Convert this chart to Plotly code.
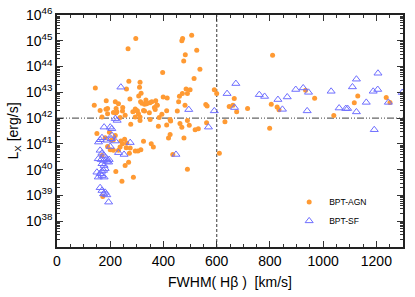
import plotly.graph_objects as go

# BPT-AGN sample: FWHM(Hbeta) [km/s] and log10 L_X [erg/s]
agn_fwhm = [296, 267, 472, 469, 506, 525, 482, 476, 397, 537, 810,
            270, 312, 310, 316, 307, 261, 274, 144,
            515, 485, 500, 471, 490, 460, 399, 414,
            334, 371, 457, 314, 319, 349, 375, 329,
            231, 247, 222, 190, 162, 294, 302, 285,
            369, 347, 412, 452, 212, 225, 246, 329,
            591, 600, 666, 559, 564, 647, 661, 675, 716,
            934, 968, 805, 827, 834, 1130, 1117, 1237, 1251,
            1040, 799, 140,
            185, 219, 297, 337, 356, 377, 366, 481, 325,
            306, 294, 312, 312, 350, 384, 394, 425, 462,
            490, 497, 469, 519, 531, 277, 381, 412, 427,
            184, 190, 221, 237, 256, 169,
            254, 240, 246, 262, 260, 237, 231, 275, 272,
            294, 304, 315, 325, 354, 362, 425, 419, 477,
            219, 197, 204, 212, 181, 212, 269, 256, 221,
            287, 244, 490, 190,
            562, 631, 610, 435, 150, 169, 200, 172]
agn_logLx = [45.09, 44.69, 45.09, 45.00, 45.21, 44.63, 44.46, 44.22, 43.77, 43.90, 44.44,
             43.43, 43.39, 43.20, 42.96, 42.86, 43.13, 42.74, 43.17,
             43.54, 43.13, 43.10, 42.95, 42.95, 42.85, 42.82, 42.78,
             42.70, 42.67, 42.63, 42.63, 42.58, 42.60, 42.51, 42.54,
             42.56, 42.41, 42.37, 42.37, 42.30, 42.35, 42.29, 42.25,
             42.33, 42.21, 42.29, 42.28, 42.22, 42.25, 42.28, 42.28,
             43.10, 42.95, 42.76, 42.53, 42.47, 42.45, 42.50, 42.25, 42.37,
             43.08, 42.77, 42.54, 42.43, 42.32, 42.86, 42.60, 42.80, 42.61,
             42.10, 41.61, 42.50,
             42.67, 42.63, 42.30, 42.56, 42.63, 42.50, 42.41, 42.50, 42.30,
             42.17, 42.04, 42.04, 41.91, 41.95, 42.02, 42.15, 41.95, 41.79,
             41.91, 41.72, 41.65, 41.55, 41.59, 41.76, 41.68, 41.73, 41.89,
             42.34, 42.17, 42.20, 42.02, 42.11, 42.04,
             41.18, 41.11, 41.01, 41.03, 40.85, 40.88, 40.75, 40.84, 40.64,
             40.72, 40.72, 40.77, 41.10, 41.01, 40.88, 41.36, 41.23, 41.23,
             41.33, 41.45, 41.14, 41.16, 41.24, 40.75, 40.29, 40.16, 39.93,
             39.71, 39.55, 40.02, 40.90,
             41.82, 41.86, 40.64, 40.59, 41.40, 40.55, 40.77, 38.96]

# BPT-SF sample
sf_fwhm = [240, 495, 672, 639, 667, 591, 760, 780, 830,
           865, 897, 925, 945, 1030, 940, 847, 1110, 1125,
           1206, 1060, 1085, 1092, 1125, 1162, 1188, 1205,
           1245, 1297, 1192, 569, 447,
           219, 226, 177, 200, 206, 206, 203, 219, 200,
           169, 162, 275, 231, 252, 156, 187,
           162, 169, 177, 166, 187, 196, 177, 181, 169,
           177, 155, 175, 187, 169, 194, 150, 162, 155,
           169, 175, 169, 181, 175, 194, 162, 187]
sf_logLx = [43.20, 42.33, 43.34, 42.95, 42.41, 42.28, 42.91, 42.84, 42.72,
            42.82, 43.11, 43.17, 43.00, 43.04, 42.28, 42.34, 43.21, 43.51,
            43.74, 42.39, 42.37, 42.37, 42.24, 42.61, 43.04, 43.11,
            42.61, 42.99, 41.55, 41.65, 40.59,
            41.98, 41.91, 41.65, 41.65, 41.59, 41.33, 41.20, 41.11, 40.90,
            41.24, 41.16, 41.05, 40.66, 40.59, 41.07, 41.14,
            40.75, 40.64, 40.55, 40.39, 40.32, 40.39, 40.16, 40.04, 39.94,
            39.71, 40.42, 40.36, 40.42, 40.23, 40.29, 39.90, 39.84, 39.71,
            39.77, 39.97, 39.19, 39.12, 39.06, 38.74, 39.30, 39.02]

y_exponents = [38, 39, 40, 41, 42, 43, 44, 45, 46]
x_ticks = [0, 200, 400, 600, 800, 1000, 1200]
fwhm_cut = 600
lx_cut = 1e42

FONT = "Liberation Sans, Arial, sans-serif"
ORANGE = "#FF9A33"
BLUE = "#6E6EFF"

fig = go.Figure()
fig.add_trace(go.Scatter(
    x=agn_fwhm, y=[10.0 ** v for v in agn_logLx], mode="markers", name="BPT-AGN",
    marker=dict(color=ORANGE, size=5, line=dict(width=0)), legendgroup="a"))
fig.add_trace(go.Scatter(
    x=sf_fwhm, y=[10.0 ** v for v in sf_logLx], mode="markers", name="BPT-SF",
    marker=dict(symbol="triangle-up-open", color=BLUE, size=7, line=dict(width=1)),
    legendgroup="b"))

fig.add_shape(type="line", xref="x", yref="paper", x0=fwhm_cut, x1=fwhm_cut, y0=0, y1=1,
              line=dict(color="#666666", width=1.3, dash="3px,2px"), layer="below")
fig.add_shape(type="line", xref="paper", yref="y", x0=0, x1=1, y0=lx_cut, y1=lx_cut,
              line=dict(color="#666666", width=1.3, dash="7px,2px,1px,2px,1px,2px"), layer="below")

minor_y = [m * 10.0 ** e for e in range(37, 46) for m in range(2, 10)]

fig.update_layout(
    width=415, height=297,
    margin=dict(l=57, r=12, t=15, b=50),
    paper_bgcolor="white", plot_bgcolor="white",
    font=dict(family=FONT, size=13, color="black"),
    showlegend=True,
    legend=dict(x=0.671, y=0.257, xanchor="left", yanchor="top",
                font=dict(size=8.5, family=FONT), bgcolor="rgba(0,0,0,0)",
                tracegroupgap=0, itemwidth=30),
    xaxis=dict(range=[0, 1300], tickvals=x_ticks, ticks="inside", ticklen=6,
               tickwidth=1, tickcolor="#333", showline=True, linecolor="#222",
               linewidth=1.5, mirror="ticks", showgrid=False, zeroline=False,
               automargin=False,
               minor=dict(dtick=50, tick0=0, ticks="inside", ticklen=3, tickcolor="#333"),
               title=dict(text="FWHM( Hβ )  [km/s]", font=dict(size=14), standoff=10),
               tickfont=dict(size=14)),
    yaxis=dict(type="log", range=[37, 46],
               tickvals=[10.0 ** e for e in y_exponents],
               ticktext=[f"10<sup>{e}</sup>" for e in y_exponents],
               ticks="inside", ticklen=6, tickwidth=1, tickcolor="#333",
               showline=True, linecolor="#222", linewidth=1.5, mirror="ticks",
               showgrid=False, zeroline=False, automargin=False,
               ticklabeloverflow="allow",
               minor=dict(tickvals=minor_y, ticks="inside", ticklen=3, tickcolor="#333"),
               title=dict(text="L<sub>X</sub> [erg/s]", font=dict(size=14), standoff=4),
               tickfont=dict(size=14)),
)

# remove the browser's default page margin so the figure sits at the window origin
fig.write_html("out.html", config={"displayModeBar": False},
               post_script="document.body.style.margin='0';")
